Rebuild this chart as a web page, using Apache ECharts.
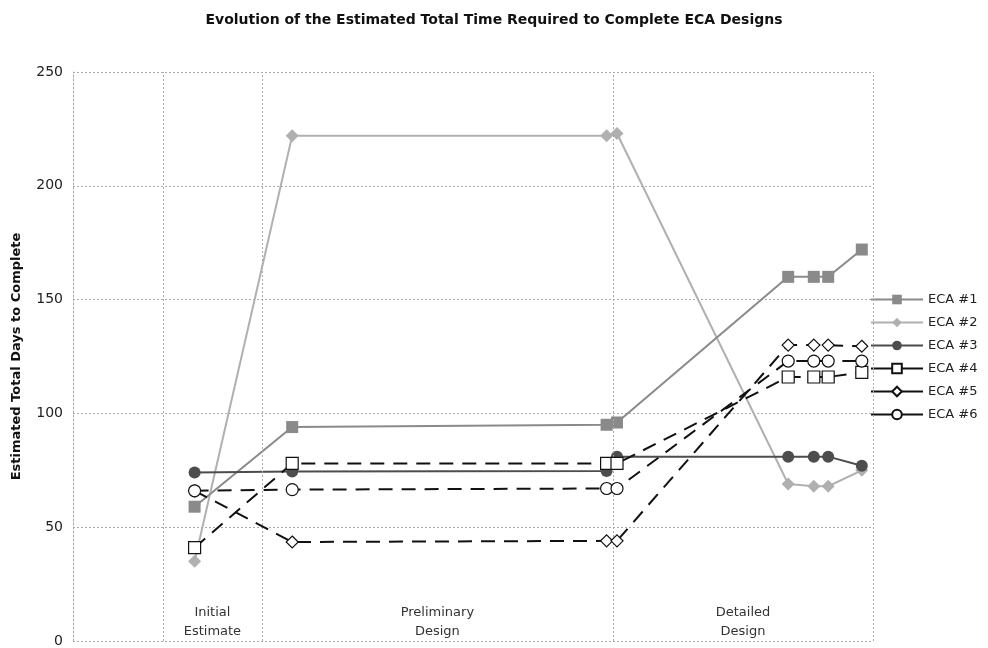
<!DOCTYPE html>
<html>
<head>
<meta charset="utf-8">
<script src="https://cdn.jsdelivr.net/npm/echarts@6/dist/echarts.min.js"></script>
<style>
  html, body { margin: 0; padding: 0; background: #fff; }
  #main { width: 988px; height: 648px; }
</style>
</head>
<body>
<div id="main"></div>
<script>
// position of each estimate along the timeline (0..100)
var xPos = [15.2, 27.4, 66.7, 68, 89.4, 92.6, 94.4, 98.6];

var eca1 = [59, 94, 95, 96, 160, 160, 160, 172];
var eca2 = [35, 222, 222, 223, 69, 68, 68, 75];
var eca3 = [74, 74.5, 74.7, 81, 81, 81, 81, 77];
var eca4 = [41, 78, 78, 78, 116, 116, 116, 118];
var eca5 = [66, 43.5, 44, 44, 130, 130, 130, 129.5];
var eca6 = [66, 66.5, 67, 67, 123, 123, 123, 123];

var seriesNames = ['ECA #1', 'ECA #2', 'ECA #3', 'ECA #4', 'ECA #5', 'ECA #6'];

var phaseEdges = [11.25, 23.6, 67.5];
var phases = [
  { name: 'Initial\nEstimate', from: 11.25, to: 23.6 },
  { name: 'Preliminary\nDesign', from: 23.6, to: 67.5 },
  { name: 'Detailed\nDesign', from: 67.5, to: 100 }
];

function pts(vals) {
  return vals.map(function (v, i) { return [xPos[i], v]; });
}

var chart = echarts.init(document.getElementById('main'));

var dotted = { color: '#aaa', type: [2, 2], width: 1 };

function mkSeries(name, vals, opt) {
  return {
    name: name,
    type: 'line',
    data: pts(vals),
    symbol: opt.symbol,
    symbolSize: opt.size,
    showSymbol: true,
    lineStyle: { color: opt.line, width: 2, type: opt.dash ? [14, 9] : 'solid' },
    itemStyle: { color: opt.fill, borderColor: opt.border, borderWidth: opt.bw },
    z: opt.z
  };
}

var series = [
  mkSeries('ECA #1', eca1, { symbol: 'rect', size: 12, line: '#8a8a8a', fill: '#8a8a8a', border: '#8a8a8a', bw: 0, z: 3 }),
  mkSeries('ECA #2', eca2, { symbol: 'diamond', size: 13, line: '#b0b0b0', fill: '#b0b0b0', border: '#b0b0b0', bw: 0, z: 2 }),
  mkSeries('ECA #3', eca3, { symbol: 'circle', size: 12, line: '#4d4d4d', fill: '#4d4d4d', border: '#4d4d4d', bw: 0, z: 4 }),
  mkSeries('ECA #4', eca4, { symbol: 'rect', size: 12, line: '#111', fill: '#fff', border: '#111', bw: 1.2, dash: true, z: 5 }),
  mkSeries('ECA #5', eca5, { symbol: 'diamond', size: 12, line: '#111', fill: '#fff', border: '#111', bw: 1.2, dash: true, z: 5 }),
  mkSeries('ECA #6', eca6, { symbol: 'circle', size: 12, line: '#111', fill: '#fff', border: '#111', bw: 1.2, dash: true, z: 5 })
];

// phase boundaries and labels
series.push({
  type: 'line',
  data: [],
  silent: true,
  z: 1,
  markLine: {
    silent: true,
    symbol: 'none',
    label: { show: false },
    lineStyle: dotted,
    data: phaseEdges.map(function (x) { return { xAxis: x }; }).concat([{ xAxis: 100 }])
  },
  markArea: {
    silent: true,
    itemStyle: { color: 'rgba(0,0,0,0)' },
    label: {
      show: true,
      position: 'insideBottom',
      distance: 0,
      color: '#333',
      fontFamily: 'DejaVu Sans',
      fontSize: 13,
      lineHeight: 19
    },
    data: phases.map(function (p) {
      return [{ name: p.name, xAxis: p.from, yAxis: 0 }, { xAxis: p.to, yAxis: 250 }];
    })
  }
});

chart.setOption({
  animation: false,
  backgroundColor: '#fff',
  title: {
    text: 'Evolution of the Estimated Total Time Required to Complete ECA Designs',
    left: 'center',
    top: 8,
    textStyle: { fontFamily: 'DejaVu Sans', fontWeight: 'bold', fontSize: 14, color: '#111' }
  },
  legend: {
    orient: 'vertical',
    left: 865,
    top: 288,
    itemWidth: 52,
    itemHeight: 12,
    itemGap: 10,
    // legend keys are drawn with solid lines
    data: seriesNames.map(function (n) {
      return { name: n, lineStyle: { type: 'solid' } };
    }),
    textStyle: { fontFamily: 'DejaVu Sans', fontSize: 13, color: '#222' }
  },
  grid: { left: 73, right: 115, top: 72, bottom: 6 },
  xAxis: {
    type: 'value',
    min: 0,
    max: 100,
    axisLine: { show: false },
    axisTick: { show: false },
    axisLabel: { show: false },
    splitLine: { show: false }
  },
  yAxis: {
    type: 'value',
    min: 0,
    max: 250,
    interval: 50,
    name: 'Estimated Total Days to Complete',
    nameLocation: 'middle',
    nameGap: 50,
    nameTextStyle: { fontFamily: 'DejaVu Sans', fontWeight: 'bold', fontSize: 13, color: '#111' },
    axisLine: { show: true, lineStyle: dotted },
    axisTick: { show: false },
    axisLabel: { fontFamily: 'DejaVu Sans', fontSize: 14, color: '#222', margin: 10 },
    splitLine: { show: true, lineStyle: dotted }
  },
  series: series
});
</script>
</body>
</html>
